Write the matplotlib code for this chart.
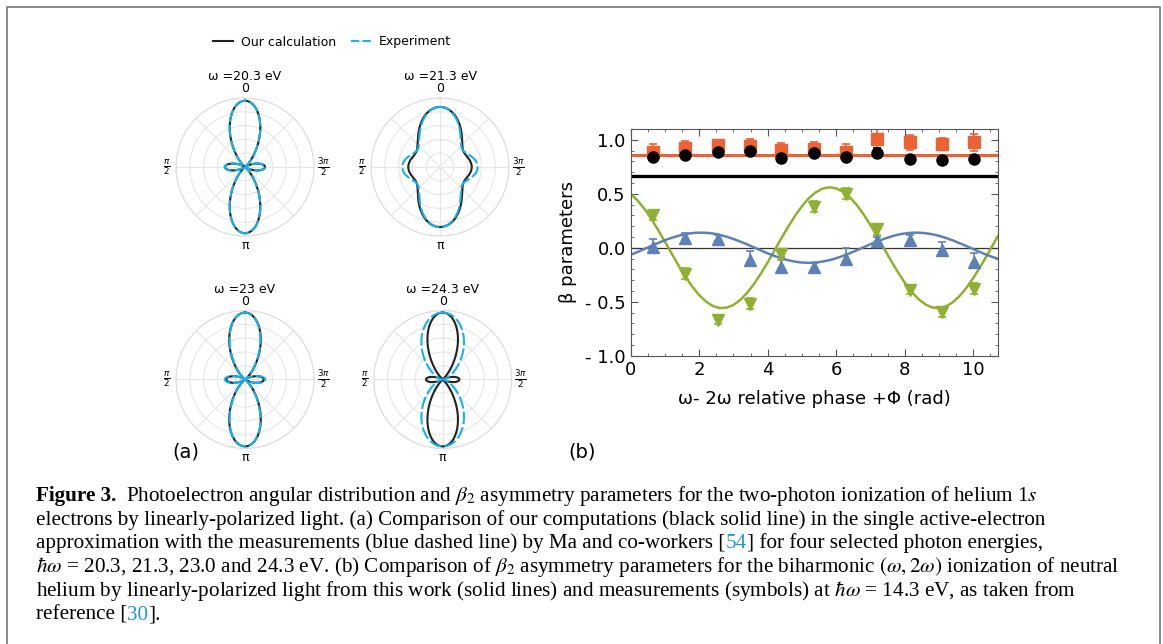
import numpy as np
import matplotlib.pyplot as plt
from matplotlib.lines import Line2D

W, H = 1163, 644
fig = plt.figure(figsize=(W / 100, H / 100), dpi=100)


def fx(px):
    return px / W


def fy(py):
    return 1 - py / H


# ---- panel (a): angular distributions, beta parameters per photon energy
energies = ['20.3', '21.3', '23', '24.3']
calc_beta2 = [1.10, 0.40, 1.20, 1.50]
calc_beta4 = [2.50, 0.39, 2.30, 3.00]
exp_beta2 = [1.05, 0.22, 1.10, 2.30]
exp_beta4 = [2.40, 0.49, 2.50, 0.55]
peak = [0.96, 0.87, 0.97, 0.97]

# ---- panel (b): beta parameters vs relative phase
phase = [0.65, 1.59, 2.55, 3.48, 4.39, 5.35, 6.28, 7.19, 8.15, 9.09, 10.02]
circ_val = [0.84, 0.86, 0.89, 0.90, 0.83, 0.88, 0.84, 0.88, 0.82, 0.81, 0.82]
circ_err = [0.035, 0.03, 0.03, 0.035, 0.035, 0.03, 0.035, 0.04, 0.03, 0.03, 0.035]
sq_val = [0.89, 0.92, 0.95, 0.945, 0.905, 0.915, 0.885, 1.01, 0.975, 0.96, 0.975]
sq_err = [0.068, 0.065, 0.05, 0.063, 0.063, 0.064, 0.075, 0.09, 0.072, 0.057, 0.078]
green_val = [0.30, -0.24, -0.67, -0.52, -0.06, 0.38, 0.50, 0.17, -0.39, -0.595, -0.38]
green_err = [0.04, 0.05, 0.04, 0.05, 0.05, 0.05, 0.05, 0.05, 0.04, 0.05, 0.05]
blue_val = [0.01, 0.09, 0.08, -0.11, -0.175, -0.18, -0.10, 0.06, 0.075, -0.02, -0.13]
blue_err_up = [0.07, 0.05, 0.04, 0.08, 0.085, 0.04, 0.10, 0.04, 0.04, 0.07, 0.08]
blue_err_lo = [0.02, 0.02, 0.02, 0.02, 0.02, 0.02, 0.02, 0.02, 0.02, 0.02, 0.02]

orange_level = 0.86
black_level = 0.66
phase_grid = [0.0, 0.2, 0.4, 0.6, 0.8, 1.0, 1.2, 1.4, 1.6, 1.8, 2.0, 2.2, 2.4, 2.6,
              2.8, 3.0, 3.2, 3.4, 3.6, 3.8, 4.0, 4.2, 4.4, 4.6, 4.8, 5.0, 5.2, 5.4,
              5.6, 5.8, 6.0, 6.2, 6.4, 6.6, 6.8, 7.0, 7.2, 7.4, 7.6, 7.8, 8.0, 8.2,
              8.4, 8.6, 8.8, 9.0, 9.2, 9.4, 9.6, 9.8, 10.0, 10.2, 10.4, 10.6, 10.8]
green_line = [0.498, 0.438, 0.361, 0.268, 0.165, 0.055, -0.056, -0.166, -0.269, -0.361,
              -0.439, -0.499, -0.540, -0.559, -0.555, -0.530, -0.483, -0.417, -0.335,
              -0.239, -0.134, -0.023, 0.089, 0.197, 0.297, 0.386, 0.460, 0.513, 0.548,
              0.560, 0.550, 0.518, 0.466, 0.395, 0.308, 0.209, 0.102, -0.010, -0.121,
              -0.227, -0.324, -0.409, -0.476, -0.525, -0.553, -0.559, -0.543, -0.505,
              -0.447, -0.371, -0.280, -0.178, -0.069, 0.043, 0.153]
blue_line = [-0.065, -0.039, -0.011, 0.017, 0.044, 0.070, 0.092, 0.111, 0.126, 0.136,
             0.140, 0.138, 0.132, 0.119, 0.102, 0.081, 0.057, 0.031, 0.003, -0.025,
             -0.052, -0.077, -0.098, -0.116, -0.129, -0.137, -0.140, -0.137, -0.128,
             -0.115, -0.097, -0.075, -0.050, -0.023, 0.005, 0.033, 0.059, 0.083, 0.104,
             0.121, 0.132, 0.139, 0.140, 0.135, 0.125, 0.110, 0.091, 0.068, 0.042,
             0.015, -0.013, -0.041, -0.067, -0.090, -0.109]

orange = '#EB6235'
green = '#8FB032'
blue = '#5E81B5'
cyan = '#19B2E8'

theta = np.linspace(0, 2 * np.pi, 721)


def distribution(b2, b4, pk):
    c = np.cos(theta)
    p2 = 0.5 * (3 * c**2 - 1)
    p4 = (35 * c**4 - 30 * c**2 + 3) / 8
    inten = np.clip(1 + b2 * p2 + b4 * p4, 0, None)
    return pk * inten / (1 + b2 + b4)


centers = [(245, 167), (440, 167), (245, 379.5), (442.7, 379.5)]
R = 69
for i, (cx, cy) in enumerate(centers):
    ax = fig.add_axes([fx(cx - R), fy(cy + R), 2 * R / W, 2 * R / H], projection='polar')
    ax.set_theta_zero_location('N')
    ax.plot(theta, distribution(calc_beta2[i], calc_beta4[i], peak[i]), color='#222222', lw=1.5)
    ax.plot(theta, distribution(exp_beta2[i], exp_beta4[i], peak[i]), color=cyan, lw=1.5,
            dashes=(6, 1.5))
    ax.set_ylim(0, 1)
    ax.set_yticks([0.2, 0.4, 0.6, 0.8, 1.0])
    ax.set_yticklabels([])
    ax.set_xticks(np.deg2rad(np.arange(0, 360, 45)))
    ax.set_xticklabels(['0', '', r'$\frac{\pi}{2}$', '', 'π', '', r'$\frac{3\pi}{2}$', ''])
    ax.tick_params(axis='x', pad=-4, labelsize=9)
    ax.grid(color='#e6e6e6', lw=0.8)
    ax.spines['polar'].set_color('#dddddd')
    ax.text(0.5, 1 + (98 - 76.7) / 138, 'ω =%s eV' % energies[i], transform=ax.transAxes,
            ha='center', va='center', fontsize=9)

handles = [Line2D([], [], color='#222222', lw=1.5),
           Line2D([], [], color=cyan, lw=1.5, dashes=(4, 1.5))]
fig.legend(handles, ['Our calculation', 'Experiment'], loc='center',
           bbox_to_anchor=(fx(332), fy(42)), ncol=2, frameon=False, fontsize=9,
           handlelength=1.6, columnspacing=1.2, handletextpad=0.6)

fig.text(fx(186), fy(452), '(a)', fontsize=14, ha='center', va='center')
fig.text(fx(582), fy(452), '(b)', fontsize=14, ha='center', va='center')

# ---- panel (b)
axb = fig.add_axes([fx(630.7), fy(355.7), fx(998) - fx(630.7), (355.7 - 129) / H])
axb.axhline(0, color='#333333', lw=0.9)
axb.axhline(black_level, color='black', lw=2.4)
axb.axhline(orange_level, color=orange, lw=2.2)
axb.plot(phase_grid, green_line, color=green, lw=1.8)
axb.plot(phase_grid, blue_line, color=blue, lw=1.8)
eb = dict(capsize=3, elinewidth=1.2, capthick=1.2, linestyle='none')
axb.errorbar(phase, sq_val, yerr=sq_err, marker='s', ms=8, color=orange, **eb)
axb.errorbar(phase, circ_val, yerr=circ_err, marker='o', ms=8, color='black', **eb)
axb.errorbar(phase, green_val, yerr=green_err, marker='v', ms=8, color=green, **eb)
axb.errorbar(phase, blue_val, yerr=[blue_err_lo, blue_err_up], marker='^', ms=8,
             color=blue, **eb)

axb.set_xlim(0, 10.72)
axb.set_ylim(-1.0, 1.1)
axb.set_xticks([0, 2, 4, 6, 8, 10])
axb.set_xticks(np.arange(0, 10.8, 0.5), minor=True)
axb.set_yticks([-1.0, -0.5, 0.0, 0.5, 1.0])
axb.set_yticklabels(['- 1.0', '- 0.5', '0.0', '0.5', '1.0'])
axb.set_yticks(np.arange(-1.0, 1.1, 0.1), minor=True)
axb.tick_params(which='both', direction='in', top=True, right=True, labelsize=13,
                color='#555555')
axb.tick_params(which='major', length=5)
axb.tick_params(which='minor', length=2.5)
for s in axb.spines.values():
    s.set_color('#555555')
axb.set_xlabel('ω- 2ω relative phase +Φ (rad)', fontsize=13, labelpad=8)
axb.set_ylabel('β parameters', fontsize=13, labelpad=6)

# ---- caption
renderer = fig.canvas.get_renderer()
cap_kw = dict(family='Liberation Serif', fontsize=15.2, math_fontfamily='stix')
ref_blue = '#1E96D8'
caption = [
    [('Figure 3.', 'black', 'bold', 0),
     ('Photoelectron angular distribution and $\\beta_2$ asymmetry parameters for the '
      'two-photon ionization of helium 1$s$', 'black', 'normal', 10)],
    [('electrons by linearly-polarized light. (a) Comparison of our computations (black solid '
      'line) in the single active-electron', 'black', 'normal', 0)],
    [('approximation with the measurements (blue dashed line) by Ma and co-workers [',
      'black', 'normal', 0), ('54', ref_blue, 'normal', 0),
     ('] for four selected photon energies,', 'black', 'normal', 0)],
    [('$\\hbar\\omega$ = 20.3, 21.3, 23.0 and 24.3 eV. (b) Comparison of $\\beta_2$ asymmetry '
      'parameters for the biharmonic $(\\omega, 2\\omega)$ ionization of neutral',
      'black', 'normal', 0)],
    [('helium by linearly-polarized light from this work (solid lines) and measurements '
      '(symbols) at $\\hbar\\omega$ = 14.3 eV, as taken from', 'black', 'normal', 0)],
    [('reference [', 'black', 'normal', 0), ('30', ref_blue, 'normal', 0),
     (('].', 'black', 'normal', 0))],
]
for k, line in enumerate(caption):
    x = 36
    ybase = 501 + 23.7 * k
    for txt, col, wt, gap in line:
        x += gap
        t = fig.text(fx(x), fy(ybase), txt, color=col, fontweight=wt, ha='left',
                     va='baseline', **cap_kw)
        x = t.get_window_extent(renderer).x1

# outer frame
fig.add_artist(Line2D([fx(6.7), fx(6.7), fx(1160), fx(1160)], [0, fy(7.3), fy(7.3), 0],
                      color='#808080', lw=1.3))

fig.savefig('out.png', dpi=100)
